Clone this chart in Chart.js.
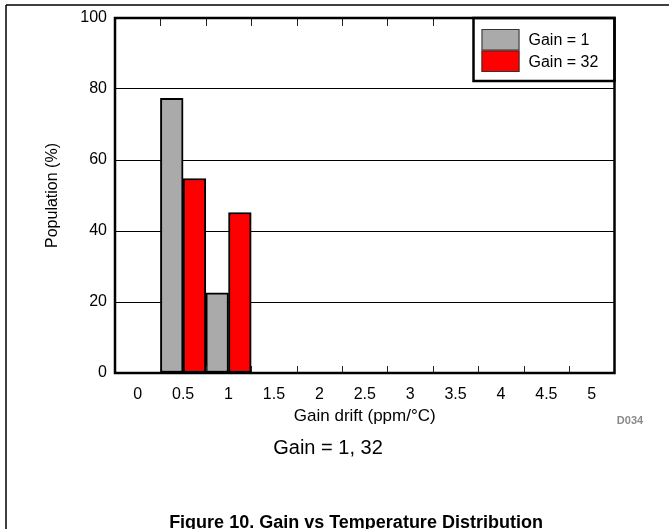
<!DOCTYPE html>
<html>
<head>
<meta charset="utf-8">
<script src="https://cdn.jsdelivr.net/npm/chart.js@4.4.1/dist/chart.umd.min.js"></script>
<style>
  html, body { margin: 0; padding: 0; background: #fff; }
  #wrap { position: relative; width: 669px; height: 529px; }
</style>
</head>
<body>
<div id="wrap"><canvas id="myChart" width="669" height="529"></canvas></div>
<script>
// histogram bins, gain drift in ppm/°C
var binLabels = ['0', '0.5', '1', '1.5', '2', '2.5', '3', '3.5', '4', '4.5', '5'];
// population (%) per bin
var gain1Values = [0, 77.4, 22.6, 0, 0, 0, 0, 0, 0, 0, 0];
var gain32Values = [0, 54.8, 45.2, 0, 0, 0, 0, 0, 0, 0, 0];
var seriesNames = ['Gain = 1', 'Gain = 32'];
var seriesColors = ['#aaaaaa', '#ff0000'];
var yTicks = [0, 20, 40, 60, 80, 100];

var fontFamily = "'Liberation Sans', Arial, sans-serif";

/* frame, inner tick marks, legend box and the captions */
var decor = {
  id: 'decor',
  beforeDraw: function(chart) {
    var ctx = chart.ctx;
    ctx.save();
    ctx.fillStyle = '#fff';
    ctx.fillRect(0, 0, chart.width, chart.height);
    ctx.restore();
  },
  afterDatasetsDraw: function(chart) {
    var ctx = chart.ctx;
    var a = chart.chartArea;
    var x = chart.scales.x;
    var half = (x.getPixelForTick(1) - x.getPixelForTick(0)) / 2;
    var i, px;

    ctx.save();

    // small ticks at the bin edges, pointing inward
    ctx.strokeStyle = '#222';
    ctx.lineWidth = 1;
    ctx.beginPath();
    for (i = 0; i < binLabels.length - 1; i++) {
      px = Math.round(x.getPixelForTick(i) + half) + 0.5;
      ctx.moveTo(px, a.bottom);
      ctx.lineTo(px, a.bottom - 7);
      ctx.moveTo(px, a.top);
      ctx.lineTo(px, a.top + 8);
    }
    ctx.stroke();

    // legend box in the top right corner
    var lx = a.right - 141, ly = a.top, lh = 63;
    ctx.fillStyle = '#fff';
    ctx.fillRect(lx, ly, a.right - lx, lh);
    ctx.strokeStyle = '#000';
    ctx.lineWidth = 2.5;
    ctx.strokeRect(lx, ly, a.right - lx, lh);
    ctx.font = '16px ' + fontFamily;
    ctx.textBaseline = 'middle';
    ctx.textAlign = 'left';
    for (i = 0; i < seriesNames.length; i++) {
      var sy = ly + 11 + i * 21.5;
      ctx.fillStyle = seriesColors[i];
      ctx.fillRect(lx + 8, sy, 38, 21.5);
      ctx.lineWidth = 1;
      ctx.strokeStyle = '#333';
      ctx.strokeRect(lx + 8.5, sy + 0.5, 37, 20.5);
      ctx.fillStyle = '#000';
      ctx.fillText(seriesNames[i], lx + 55, sy + 12);
    }

    // plot frame
    ctx.strokeStyle = '#000';
    ctx.lineWidth = 2.5;
    ctx.strokeRect(a.left, a.top, a.right - a.left, a.bottom - a.top);

    // outer figure frame (top and left)
    ctx.lineWidth = 1.5;
    ctx.beginPath();
    ctx.moveTo(6, 5);
    ctx.lineTo(chart.width, 5);
    ctx.moveTo(6, 5);
    ctx.lineTo(6, chart.height);
    ctx.stroke();

    // graph id, condition and figure caption
    ctx.fillStyle = '#8a8a8a';
    ctx.font = 'bold 11px ' + fontFamily;
    ctx.textAlign = 'center';
    ctx.fillText('D034', 630, 421);

    ctx.fillStyle = '#000';
    ctx.font = '20px ' + fontFamily;
    ctx.fillText('Gain = 1, 32', 328, 448);

    ctx.font = 'bold 18px ' + fontFamily;
    ctx.fillText('Figure 10. Gain vs Temperature Distribution', 356, 523);

    ctx.restore();
  }
};

var config = {
  type: 'bar',
  data: {
    labels: binLabels,
    datasets: [{
      label: seriesNames[0],
      data: gain1Values,
      backgroundColor: seriesColors[0],
      borderColor: '#000',
      borderWidth: 2,
      borderSkipped: false
    }, {
      label: seriesNames[1],
      data: gain32Values,
      backgroundColor: seriesColors[1],
      borderColor: '#000',
      borderWidth: 2,
      borderSkipped: false
    }]
  },
  options: {
    responsive: false,
    animation: false,
    layout: {
      padding: { left: 39, top: 18, right: 54.5, bottom: 102 }
    },
    plugins: {
      legend: { display: false },
      tooltip: { enabled: false }
    },
    datasets: {
      bar: { barPercentage: 1, categoryPercentage: 1 }
    },
    scales: {
      x: {
        grid: { display: false },
        border: { display: false },
        ticks: {
          color: '#000',
          font: { family: fontFamily, size: 16 },
          padding: 4,
          maxRotation: 0,
          autoSkip: false
        },
        title: {
          display: true,
          text: 'Gain drift (ppm/°C)',
          color: '#000',
          font: { family: fontFamily, size: 17 },
          padding: { top: 0, bottom: 0 }
        },
        afterFit: function(scale) { scale.height = 529 - 102 - 373; }
      },
      y: {
        min: 0,
        max: 100,
        grid: { color: '#000', lineWidth: 1, drawTicks: false },
        border: { display: false },
        afterBuildTicks: function(scale) {
          scale.ticks = yTicks.map(function(v) { return { value: v }; });
        },
        ticks: {
          color: '#000',
          font: { family: fontFamily, size: 16 },
          padding: 8
        },
        title: {
          display: true,
          text: 'Population (%)',
          color: '#000',
          font: { family: fontFamily, size: 16 },
          padding: { top: 4, bottom: 0 }
        },
        afterFit: function(scale) { scale.width = 115 - 39; }
      }
    }
  },
  plugins: [decor]
};

window.onload = function() {
  var ctx = document.getElementById('myChart').getContext('2d');
  window.barChart = new Chart(ctx, config);
};
</script>
</body>
</html>
